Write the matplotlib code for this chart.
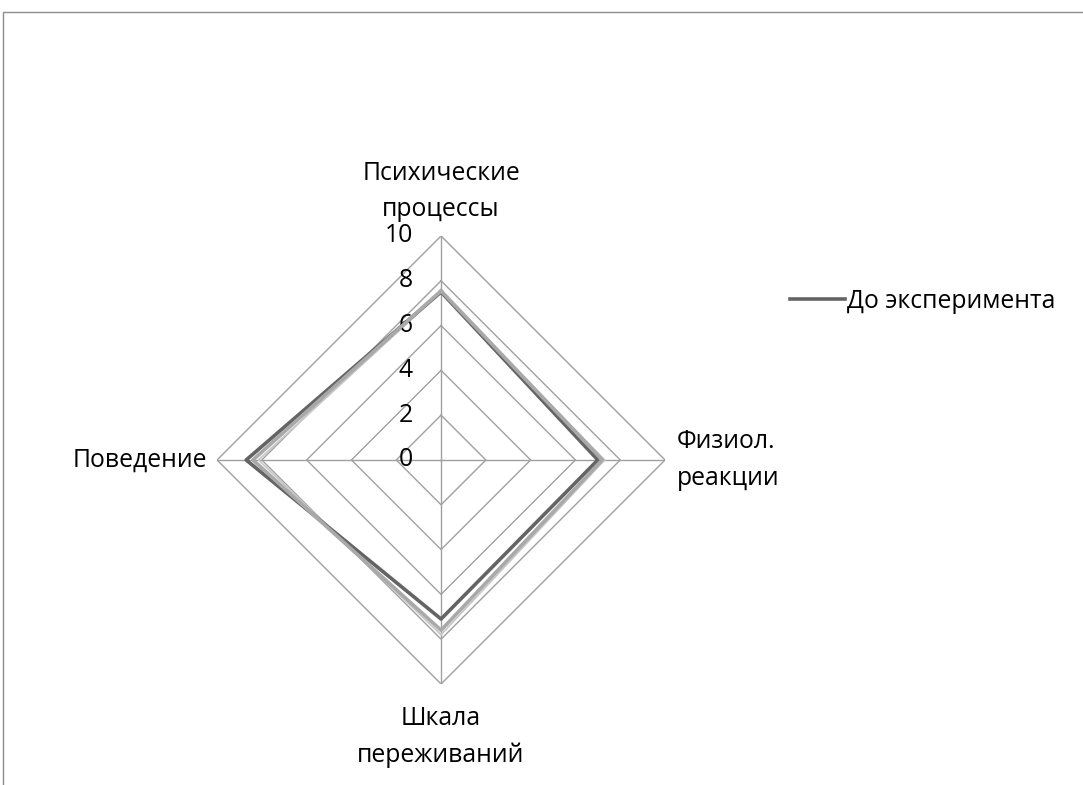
import numpy as np
import matplotlib.pyplot as plt
from matplotlib.patches import Rectangle

plt.rcParams['font.family'] = ['Open Sans', 'DejaVu Sans']

# categories, clockwise from the top
categories = ['Психические\nпроцессы', 'Физиол.\nреакции', 'Шкала\nпереживаний', 'Поведение']
levels = [0, 2, 4, 6, 8, 10]

# series values
before = [7.5, 7.0, 7.1, 8.7]
series2 = [7.55, 7.2, 7.6, 8.4]
series3 = [7.5, 7.3, 7.8, 8.15]

fig = plt.figure(figsize=(10.83, 7.85), dpi=100)
ax = fig.add_axes([0.2004, 0.1287, 0.4137, 0.5707], projection='polar')
ax.set_theta_zero_location('N')
ax.set_theta_direction(-1)
ax.set_ylim(0, 10)
ax.grid(False)
ax.spines['polar'].set_visible(False)
ax.set_xticks([])
ax.set_yticks([])
ax.patch.set_alpha(0)

angles = np.arange(len(categories)) * 2 * np.pi / len(categories)
closed = np.append(angles, angles[0])

grid_col = '#a0a0a0'
# polygon grid
for lv in levels[1:]:
    ax.plot(closed, [lv] * len(closed), color=grid_col, lw=1.0, zorder=1)
# spokes
for a in angles:
    ax.plot([a, a], [0, 10], color=grid_col, lw=1.0, zorder=1)

# series
ax.plot(closed, series3 + series3[:1], color='#c8c8c8', lw=1.3, zorder=2)
ax.plot(closed, before + before[:1], color='#646464', lw=2.6, zorder=3,
        label='До эксперимента')
ax.plot(closed, series2 + series2[:1], color='#a9a9a9', lw=2.6, zorder=4)

fs = 17.8

# value labels along the top spoke
for lv in levels:
    ax.annotate(str(lv), xy=(0, lv), xytext=(-28, 0), textcoords='offset pixels',
                ha='right', va='center', fontsize=fs, color='black')

# category labels
ls = 1.6
ax.annotate(categories[0], xy=(angles[0], 10), xytext=(0, 14), textcoords='offset pixels',
            ha='center', va='bottom', fontsize=fs, linespacing=ls)
ax.annotate(categories[1], xy=(angles[1], 10), xytext=(12, 0), textcoords='offset pixels',
            ha='left', va='center', fontsize=fs, linespacing=ls)
ax.annotate(categories[2], xy=(angles[2], 10), xytext=(0, -22), textcoords='offset pixels',
            ha='center', va='top', fontsize=fs, linespacing=ls)
ax.annotate(categories[3], xy=(angles[3], 10), xytext=(-10, 0), textcoords='offset pixels',
            ha='right', va='center', fontsize=fs, linespacing=ls)

fig.legend(loc='center left', bbox_to_anchor=(0.7205, 0.6165), frameon=False,
           fontsize=fs, handlelength=2.2, handletextpad=0.1, borderaxespad=0)

# chart frame (only left and top edges visible)
fig.add_artist(Rectangle((3 / 1083, -0.2), 1.2, 0.2 + 1 - 12 / 785,
                         transform=fig.transFigure, fill=False,
                         edgecolor='#8c8c8c', lw=1.0, clip_on=False))

fig.savefig('out.png', dpi=100)
